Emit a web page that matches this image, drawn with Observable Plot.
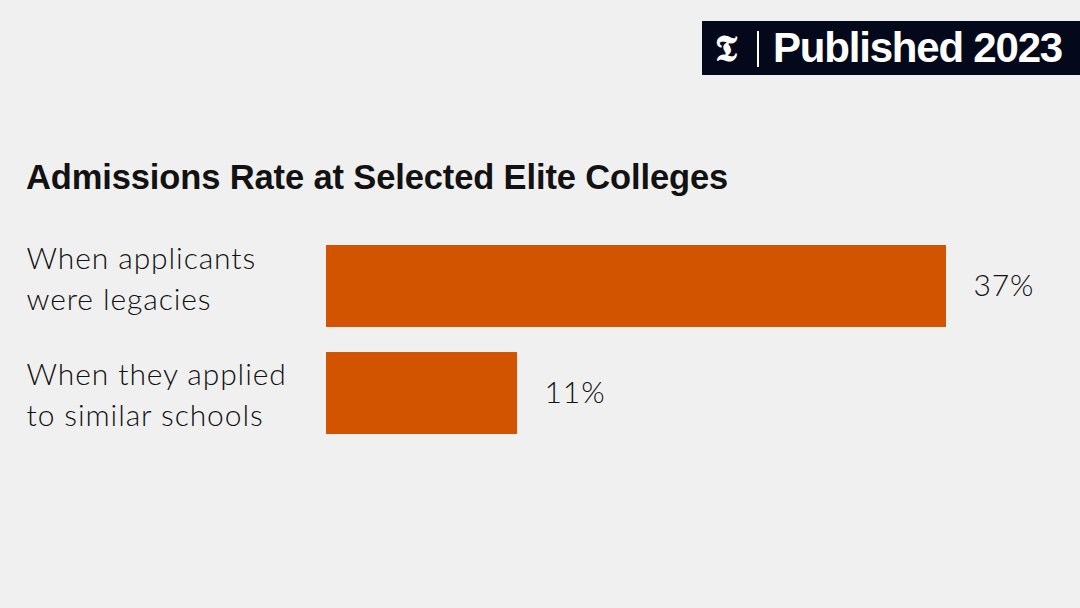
<!DOCTYPE html>
<html>
<head>
<meta charset="utf-8">
<script src="https://cdn.jsdelivr.net/npm/d3@7"></script>
<script src="https://cdn.jsdelivr.net/npm/@observablehq/plot@0.6"></script>
<style>
  html, body { margin: 0; padding: 0; background: #f0f0f0; width: 1080px; height: 608px; overflow: hidden; }
  #wrap { position: relative; width: 1080px; height: 608px; }
  #badge { position: absolute; left: 702px; top: 21px; width: 378px; height: 54px; background: #03091a; color: #fff; }
  #logo { position: absolute; left: 13px; top: 4px; font-family: "DejaVu Serif", serif; font-size: 36px; font-weight: bold; line-height: 46px; }
  #sep { position: absolute; left: 55px; top: 10px; width: 2px; height: 36px; background: #fff; }
  #pub { position: absolute; left: 71px; top: 0px; font-family: "Liberation Sans", Arial, sans-serif; font-weight: bold; font-size: 42px; line-height: 54px; letter-spacing: -1.2px; white-space: nowrap; }
  #title { position: absolute; left: 26px; top: 157px; font-family: "Liberation Sans", sans-serif; font-weight: bold; font-size: 34.5px; line-height: 40px; color: #121212; white-space: nowrap; letter-spacing: -0.13px; }
  #chart { position: absolute; left: 0; top: 0; }
</style>
</head>
<body>
<div id="wrap">
  <div id="chart"></div>
  <div id="title">Admissions Rate at Selected Elite Colleges</div>
  <div id="badge"><span id="logo">𝕿</span><span id="sep"></span><span id="pub">Published 2023</span></div>
</div>
<script>
const categories = ["When applicants\nwere legacies", "When they applied\nto similar schools"];
const rates = [37, 11.4];
const barColor = "#d35400";

const data = categories.map((c, i) => ({category: c, rate: rates[i]}));
const labelOffsets = [-10, -1];

const chart = Plot.plot({
  width: 1080,
  height: 608,
  marginLeft: 26,
  marginRight: 0,
  marginTop: 0,
  marginBottom: 0,
  style: {background: "transparent", fontFamily: "Lato, 'Liberation Sans', sans-serif", color: "#121212", letterSpacing: "0.9px"},
  x: {domain: [0, 37], range: [326, 946], axis: null},
  y: {type: "band", domain: categories, range: [245, 434], paddingInner: 0.234, paddingOuter: 0, round: false, axis: null},
  marks: [
    Plot.barX(data, {x: "rate", y: "category", fill: barColor}),
    ...data.map((d, i) => Plot.text([d], {y: "category", text: "category", frameAnchor: "left", textAnchor: "start", dy: labelOffsets[i], fontSize: 30, lineHeight: 1.367, fill: "#121212", fontWeight: 300})),
    Plot.text(data, {x: "rate", y: "category", text: d => Math.round(d.rate) + "%", textAnchor: "start", dx: 27, fontSize: 30, fill: "#121212", fontWeight: 300})
  ]
});
document.getElementById("chart").appendChild(chart);
</script>
</body>
</html>
